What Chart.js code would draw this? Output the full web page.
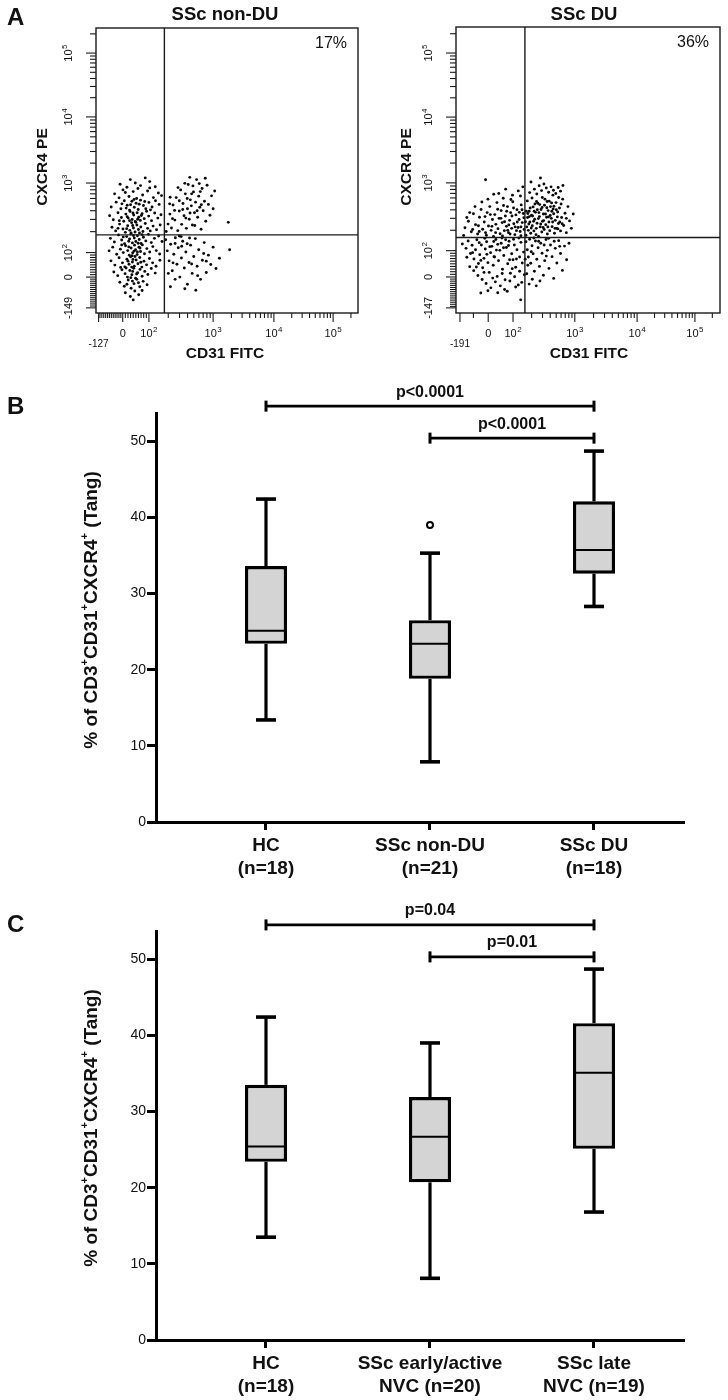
<!DOCTYPE html>
<html><head><meta charset="utf-8">
<script src="https://cdn.jsdelivr.net/npm/chart.js@4.4.1/dist/chart.umd.min.js"></script>
<style>
html,body{margin:0;padding:0;background:#fff;}
body{width:728px;height:1400px;position:relative;overflow:hidden;}
canvas{position:absolute;}
</style></head><body>
<canvas id="flowNonDu" style="left:0;top:0" width="364" height="362"></canvas>
<canvas id="flowDu" style="left:364px;top:0" width="364" height="362"></canvas>
<canvas id="boxB" style="left:0;top:362px" width="728" height="518"></canvas>
<canvas id="boxC" style="left:0;top:880px" width="728" height="520"></canvas>
<script>
// ---------------- Panel A: flow cytometry dot plots (display channel units 0-1000) ----------------
const nonDuTitle = 'SSc non-DU';
const duTitle = 'SSc DU';
const nonDuPercent = '17%';
const duPercent = '36%';
const flowXTitle = 'CD31 FITC';
const flowYTitle = 'CXCR4 PE';
const nonDuXTickLabels = ['-127', '0', '10^2', '10^3', '10^4', '10^5'];
const nonDuXTickCh = [10, 102, 202, 447, 679, 905];
const nonDuYTickLabels = ['-149', '0', '10^2', '10^3', '10^4', '10^5'];
const nonDuYTickCh = [18, 126, 212, 456, 688, 912];
const duXTickLabels = ['-191', '0', '10^2', '10^3', '10^4', '10^5'];
const duXTickCh = [15, 122, 216, 450, 686, 905];
const duYTickLabels = ['-147', '0', '10^2', '10^3', '10^4', '10^5'];
const duYTickCh = [18, 126, 218, 455, 685, 909];
const nonDuGate = [261, 274];
const duGate = [261, 264];

const nonDuPoints = [
 [92,452],[131,468],[170,447],[205,461],[118,441],[188,474],[150,456],[226,443],
 [71,418],[103,432],[126,409],[142,426],[160,437],[178,414],[197,428],[219,405],[238,421],[88,404],[155,402],[112,423],[205,439],[250,412],
 [58,372],[77,389],[95,366],[108,394],[119,378],[128,361],[137,392],[146,371],[153,385],[161,363],[170,396],[181,377],[190,366],[202,388],[214,372],[227,394],[241,381],[132,380],[115,368],[165,382],[145,398],[99,383],[186,391],[208,362],
 [52,341],[66,327],[84,352],[97,335],[106,322],[114,347],[123,333],[130,356],[138,328],[144,344],[150,321],[157,352],[163,336],[169,325],[176,348],[184,331],[193,357],[201,340],[212,324],[224,351],[236,333],[248,345],[119,338],[141,351],[159,329],[173,342],[89,324],[128,324],
 [61,301],[75,288],[90,312],[103,295],[112,283],[121,306],[129,290],[136,317],[143,298],[149,284],[156,309],[162,293],[171,302],[179,286],[188,314],[197,297],[207,288],[218,305],[231,292],[245,309],[134,281],[152,318],[117,296],[166,281],[84,297],[140,307],
 [55,262],[70,249],[86,274],[98,256],[109,243],[117,268],[125,252],[133,277],[139,246],[146,263],[152,251],[158,271],[165,258],[172,244],[181,266],[190,253],[200,276],[211,247],[223,262],[239,270],[252,251],[128,260],[143,272],[161,245],[104,267],[176,275],
 [50,218],[64,231],[79,206],[93,224],[104,212],[113,236],[121,219],[127,203],[134,228],[140,211],[147,238],[151,222],[157,205],[164,231],[170,216],[177,239],[185,208],[194,226],[205,214],[217,233],[230,219],[243,207],[125,232],[138,201],[145,217],[168,228],[98,239],[158,214],
 [57,183],[72,168],[88,194],[101,176],[110,162],[118,189],[126,171],[132,197],[139,179],[146,164],[153,186],[160,173],[167,195],[175,161],[183,182],[193,169],[204,191],[216,176],[229,164],[244,185],[136,161],[149,198],[122,182],[171,178],[94,160],[141,188],
 [68,144],[83,131],[99,152],[111,138],[120,126],[129,149],[137,134],[144,157],[151,122],[159,141],[168,153],[176,129],[186,146],[198,135],[211,156],[226,140],[133,124],[155,137],[115,158],[140,146],
 [91,108],[108,94],[123,116],[134,87],[145,103],[156,118],[167,92],[180,111],[195,99],[139,112],[118,101],[162,106],
 [112,71],[131,58],[148,77],[163,64],[142,46],[176,79],
 [268,286],[275,312],[282,347],[288,298],[294,379],[301,326],[306,405],[312,289],[318,358],[323,432],[327,311],[332,384],[336,341],[341,418],[345,297],[349,366],[352,451],[356,329],[360,397],[364,376],[368,309],[372,425],[376,352],[380,389],[384,468],[388,336],[392,410],[396,371],[401,294],[405,437],[409,359],[414,392],[419,322],[424,448],[429,381],[435,343],[441,411],[447,366],[453,428],[339,455],[358,476],[370,446],[318,394],[300,360],[283,406],[292,331],[313,440],[325,268],[394,454],[417,473],[365,418],[348,402],[331,363],[386,359],[402,380],[377,307],[343,333],[359,351],[281,383],[398,426],
 [505,318],[510,222],
 [266,257],[272,218],[279,183],[285,241],[291,148],[297,206],[303,264],[309,171],[314,229],[320,126],[326,193],[331,252],[337,158],[343,214],[349,101],[355,177],[361,238],[367,139],[373,198],[379,261],[386,164],[392,222],[399,118],[406,185],[413,247],[421,142],[429,203],[438,170],[447,231],[458,156],[471,192],[284,92],[302,118],[339,85],[381,80],[318,270],[357,263],[294,176],[411,209],[276,139],[348,243],[365,172],[327,234],[302,244],[388,131],[421,182]
];

const duPoints = [
 [265,272],[268,301],[271,334],[274,289],[277,356],[280,318],[283,279],[286,342],[289,305],[292,371],[295,287],[298,328],[301,352],[304,296],[307,314],[310,384],[313,268],[316,337],[319,301],[322,362],[325,283],[328,321],[331,346],[334,292],[337,398],[340,309],[343,335],[346,276],[349,358],[352,318],[355,288],[358,372],[361,331],[364,302],[367,412],[370,347],[373,279],[376,324],[379,386],[382,296],[385,353],[388,313],[392,367],[396,287],[400,334],[404,398],[408,306],[413,349],[418,281],[424,372],[430,322],[437,296],[444,346],
 [270,392],[279,421],[288,402],[297,433],[306,416],[315,445],[324,428],[333,451],[342,437],[351,422],[360,441],[369,429],[378,418],[387,439],[396,426],[405,446],
 [272,348],[281,367],[290,339],[299,381],[308,361],[317,379],[326,369],[335,377],[344,368],[353,391],[362,385],[371,373],[380,361],[389,404],[398,381],
 [276,311],[285,297],[294,321],[303,274],[312,330],[321,311],[330,299],[339,346],[348,301],[357,341],[366,318],[375,296],[384,336],[393,318],
 [278,337],[296,356],[314,351],[332,323],[350,336],[368,364],[386,294],[263,319],[266,356],[305,390],[327,404],[345,390],[363,356],[402,312],[418,331],[284,458],[320,472],
 [112,466],
 [34,298],[47,321],[58,284],[66,347],[74,309],[82,276],[89,335],[95,362],[101,293],[107,318],[112,281],[118,351],[123,304],[128,372],[133,289],[138,327],[142,268],[147,344],[151,310],[155,386],[159,295],[163,331],[167,277],[171,358],[175,316],[179,401],[183,288],[187,339],[191,303],[195,372],[199,281],[203,324],[207,351],[211,296],[215,389],[219,312],[223,274],[227,343],[231,361],[235,299],[239,327],[243,285],[247,378],[251,316],[255,348],[258,292],
 [162,418],[188,433],[214,412],[236,427],[253,441],[121,398],[143,415],[98,388],[72,372],[52,351],[41,334],[205,276],[229,288],[246,301],[176,269],[150,281],[192,356],[218,367],[240,352],[170,331],[110,337],[85,305],[63,292],[136,303],[200,308],[232,318],[257,333],[184,319],[224,301],[246,270],[158,363],[208,397],[244,409],[196,289],[115,272],[29,271],[88,285],[130,344],[250,361],[212,339],[180,376],
 [24,241],[38,226],[46,252],[55,208],[61,237],[68,189],[74,221],[79,256],[85,173],[90,204],[96,238],[101,158],[106,191],[111,224],[116,249],[121,176],[126,142],[131,211],[136,233],[141,167],[146,196],[151,257],[156,128],[161,183],[166,219],[171,244],[176,153],[181,201],[186,116],[191,229],[196,172],[201,251],[206,139],[211,207],[216,186],[221,238],[226,160],[231,221],[236,98],[241,196],[246,247],[251,175],[256,213],[259,134],
 [52,162],[67,148],[83,131],[99,117],[114,103],[132,88],[149,109],[168,95],[184,82],[204,112],[222,127],[241,146],[63,211],[88,246],[109,261],[128,232],[153,220],[174,262],[199,236],[218,258],[238,262],[94,184],[117,205],[143,250],[188,256],[229,189],[158,240],[106,142],[139,122],[175,138],[213,155],[249,107],[41,195],[77,161],[194,76],[121,78],[158,71],[226,91],[144,197],[203,186],[180,228],
 [265,249],[270,221],[274,196],[279,258],[283,174],[288,235],[292,207],[297,146],[301,252],[306,188],[311,228],[316,163],[321,244],[326,209],[331,132],[336,183],[341,257],[346,219],[352,156],[358,238],[364,197],[370,121],[376,226],[382,175],[389,253],[396,208],[403,149],[411,234],[419,186],[428,244],
 [268,137],[277,101],[289,118],[304,95],[318,112],[272,167],[295,262],[313,251],[334,238],[351,261],[372,251],[393,233],[285,214],[342,199],[262,188],
 [245,46],[94,70]
];

// ---------------- Panels B and C: box plots ----------------
const panelLetters = ['A', 'B', 'C'];
const boxYTitleParts = [['% of CD3', 0], ['+', 1], ['CD31', 0], ['+', 1], ['CXCR4', 0], ['+', 1], [' (Tang)', 0]];
const boxYTicks = [0, 10, 20, 30, 40, 50];

const groupsB = [['HC', '(n=18)'], ['SSc non-DU', '(n=21)'], ['SSc DU', '(n=18)']];
const minB = [13.4, 7.9, 28.3];
const q1B = [23.4, 18.8, 32.6];
const medianB = [25.1, 23.4, 35.7];
const q3B = [33.6, 26.5, 42.1];
const maxB = [42.4, 35.3, 48.7];
const outliersB = [[2, 39.0]];
const pLabelsB = ['p<0.0001', 'p<0.0001'];
const pPairsB = [[1, 3], [2, 3]];
const pLevelsB = [54.6, 50.4];

const groupsC = [['HC', '(n=18)'], ['SSc early/active', 'NVC (n=20)'], ['SSc late', 'NVC (n=19)']];
const minC = [13.5, 8.1, 16.8];
const q1C = [23.4, 20.7, 25.1];
const medianC = [25.4, 26.7, 35.1];
const q3C = [33.5, 31.9, 41.6];
const maxC = [42.4, 39.0, 48.7];
const outliersC = [];
const pLabelsC = ['p=0.04', 'p=0.01'];
const pPairsC = [[1, 3], [2, 3]];
const pLevelsC = [54.5, 50.3];

// ---------------- drawing helpers ----------------
const FONT = "'Liberation Sans', Arial, Helvetica, sans-serif";
const INK = '#111';

function line(ctx, x1, y1, x2, y2) { ctx.beginPath(); ctx.moveTo(x1, y1); ctx.lineTo(x2, y2); ctx.stroke(); }

function drawExpLabel(ctx, label, cx, cy, size, weight) {
  const w = weight ? weight + ' ' : '';
  const parts = label.split('^');
  const base = parts[0], exp = parts[1];
  const es = Math.round(size * 0.72);
  ctx.font = w + size + 'px ' + FONT;
  const wb = ctx.measureText(base).width;
  let we = 0;
  if (exp) { ctx.font = w + es + 'px ' + FONT; we = ctx.measureText(exp).width + 0.5; }
  const start = cx - (wb + we) / 2;
  ctx.textAlign = 'left'; ctx.textBaseline = 'middle';
  ctx.font = w + size + 'px ' + FONT;
  ctx.fillText(base, start, cy);
  if (exp) { ctx.font = w + es + 'px ' + FONT; ctx.fillText(exp, start + wb + 0.5, cy - size * 0.42); }
}

function drawParts(ctx, parts, cx, cy, size) {
  const ss = Math.round(size * 0.6);
  let total = 0;
  parts.forEach(p => { ctx.font = 'bold ' + (p[1] ? ss : size) + 'px ' + FONT; total += ctx.measureText(p[0]).width; });
  let x = cx - total / 2;
  ctx.textAlign = 'left'; ctx.textBaseline = 'middle';
  parts.forEach(p => {
    ctx.font = 'bold ' + (p[1] ? ss : size) + 'px ' + FONT;
    ctx.fillText(p[0], x, p[1] ? cy - size * 0.36 : cy);
    x += ctx.measureText(p[0]).width;
  });
}

function buildFlowTicks(ch, negLabel, linStep) {
  const minor = [];
  const neg = Math.abs(parseFloat(negLabel));
  const cn = ch[0], c0 = ch[1], c2 = ch[2];
  for (let v = linStep; v < neg - 1; v += linStep) minor.push(c0 - v / neg * (c0 - cn));
  for (let v = linStep; v < 100; v += linStep) minor.push(c0 + v / 100 * (c2 - c0));
  for (let k = 2; k < ch.length; k++) {
    const d = k + 1 < ch.length ? ch[k + 1] - ch[k] : ch[k] - ch[k - 1];
    for (let m = 2; m <= 9; m++) {
      const c = ch[k] + Math.log10(m) * d;
      if (c <= 995) minor.push(c);
    }
  }
  return { major: ch.slice(), minor };
}

function flowDecor(o) {
  return {
    id: 'flowDecor' + o.key,
    afterDatasetsDraw(chart) {
      const ctx = chart.ctx, a = chart.chartArea, xs = chart.scales.x, ys = chart.scales.y;
      ctx.save();
      ctx.strokeStyle = '#1a1a1a'; ctx.fillStyle = INK;
      ctx.lineWidth = 1.4;
      ctx.strokeRect(a.left, a.top, a.right - a.left, a.bottom - a.top);
      const gx = xs.getPixelForValue(o.gate[0]), gy = ys.getPixelForValue(o.gate[1]);
      line(ctx, gx, a.top, gx, a.bottom);
      line(ctx, a.left, gy, a.right, gy);
      ctx.lineWidth = 1.1;
      const xt = buildFlowTicks(o.xTickCh, o.xTickLabels[0], o.xStep);
      const yt = buildFlowTicks(o.yTickCh, o.yTickLabels[0], o.yStep);
      xt.major.forEach(c => { const x = xs.getPixelForValue(c); line(ctx, x, a.bottom, x, a.bottom + 9); });
      xt.minor.forEach(c => { const x = xs.getPixelForValue(c); line(ctx, x, a.bottom, x, a.bottom + 5); });
      yt.major.forEach(c => { const y = ys.getPixelForValue(c); line(ctx, a.left - 10, y, a.left, y); });
      yt.minor.forEach(c => { const y = ys.getPixelForValue(c); line(ctx, a.left - 6, y, a.left, y); });
      o.xTickLabels.forEach((l, i) => {
        const x = xs.getPixelForValue(o.xTickCh[i]);
        drawExpLabel(ctx, l, x, a.bottom + (i === 0 ? 31 : 21), i === 0 ? 10 : 11);
      });
      o.yTickLabels.forEach((l, i) => {
        const y = ys.getPixelForValue(o.yTickCh[i]);
        ctx.save(); ctx.translate(a.left - 27, y); ctx.rotate(-Math.PI / 2);
        drawExpLabel(ctx, l, 0, 0, 11); ctx.restore();
      });
      ctx.textAlign = 'center'; ctx.textBaseline = 'middle';
      ctx.font = 'bold 18.5px ' + FONT;
      ctx.fillText(o.title, o.titleX, 15);
      ctx.font = '16px ' + FONT;
      ctx.fillText(o.percent, a.right - 27, a.top + 16);
      ctx.font = 'bold 15.5px ' + FONT;
      ctx.fillText(flowXTitle, o.xTitleX, 354);
      ctx.save(); ctx.translate(43, 167); ctx.rotate(-Math.PI / 2);
      ctx.fillText(flowYTitle, 0, 0); ctx.restore();
      if (o.letter) {
        ctx.font = 'bold 24px ' + FONT; ctx.textAlign = 'left'; ctx.textBaseline = 'alphabetic';
        ctx.fillText(o.letter, 7, 25);
      }
      ctx.restore();
    }
  };
}

function makeFlow(id, pts, o) {
  new Chart(document.getElementById(id), {
    type: 'scatter',
    data: { datasets: [{ data: pts.map(p => ({ x: p[0], y: p[1] })), pointRadius: 1.45, pointHoverRadius: 0,
      backgroundColor: '#0a0a0a', borderColor: '#0a0a0a', borderWidth: 0 }] },
    options: {
      responsive: false, animation: false, devicePixelRatio: 1, events: [],
      layout: { padding: o.pad },
      plugins: { legend: { display: false }, tooltip: { enabled: false } },
      scales: {
        x: { type: 'linear', min: 0, max: 1000, display: false },
        y: { type: 'linear', min: 0, max: 1000, display: false }
      }
    },
    plugins: [flowDecor(o)]
  });
}

function boxDecor(o) {
  return {
    id: 'boxDecor' + o.key,
    beforeDatasetsDraw(chart) {
      const ctx = chart.ctx, xs = chart.scales.x, ys = chart.scales.y;
      ctx.save(); ctx.strokeStyle = '#000'; ctx.lineCap = 'butt';
      o.q1.forEach((q, i) => {
        const x = xs.getPixelForValue(i + 1);
        const yMax = ys.getPixelForValue(o.max[i]), yMin = ys.getPixelForValue(o.min[i]);
        ctx.lineWidth = 3.2;
        line(ctx, x, yMax, x, ys.getPixelForValue(o.q3[i]));
        line(ctx, x, ys.getPixelForValue(q), x, yMin);
        ctx.lineWidth = 3.6;
        line(ctx, x - 10, yMax, x + 10, yMax);
        line(ctx, x - 10, yMin, x + 10, yMin);
      });
      ctx.restore();
    },
    afterDatasetsDraw(chart) {
      const ctx = chart.ctx, a = chart.chartArea, xs = chart.scales.x, ys = chart.scales.y;
      ctx.save();
      ctx.strokeStyle = '#000'; ctx.fillStyle = INK;
      ctx.lineWidth = 2;
      o.median.forEach((m, i) => {
        const x = xs.getPixelForValue(i + 1), y = ys.getPixelForValue(m);
        line(ctx, x - 19, y, x + 19, y);
      });
      // significance brackets
      o.pPairs.forEach((pr, i) => {
        const x1 = xs.getPixelForValue(pr[0]), x2 = xs.getPixelForValue(pr[1]);
        const y = ys.getPixelForValue(o.pLevels[i]);
        ctx.lineWidth = 2.7;
        line(ctx, x1, y, x2, y);
        ctx.lineWidth = 3;
        line(ctx, x1, y - 5.5, x1, y + 5.5);
        line(ctx, x2, y - 5.5, x2, y + 5.5);
        ctx.font = 'bold 16px ' + FONT; ctx.textAlign = 'center'; ctx.textBaseline = 'middle';
        ctx.fillText(o.pLabels[i], (x1 + x2) / 2, y - 14);
      });
      // category labels
      ctx.font = 'bold 19px ' + FONT; ctx.textAlign = 'center'; ctx.textBaseline = 'middle';
      o.groups.forEach((g, i) => {
        const x = xs.getPixelForValue(i + 1);
        ctx.fillText(g[0], x, a.bottom + 24);
        ctx.fillText(g[1], x, a.bottom + 47);
      });
      // y title
      ctx.save(); ctx.translate(92, 248); ctx.rotate(-Math.PI / 2);
      drawParts(ctx, boxYTitleParts, 0, 0, 19); ctx.restore();
      // panel letter
      ctx.font = 'bold 24px ' + FONT; ctx.textAlign = 'left'; ctx.textBaseline = 'alphabetic';
      ctx.fillText(o.letter, 7, 52);
      ctx.restore();
    }
  };
}

function makeBox(id, o) {
  const canvas = document.getElementById(id);
  const H = canvas.height;
  new Chart(canvas, {
    type: 'bar',
    data: { datasets: [
      { type: 'bar', data: o.q1.map((q, i) => ({ x: i + 1, y: [q, o.q3[i]] })),
        backgroundColor: '#d4d4d4', borderColor: '#000', borderWidth: 3.4, borderSkipped: false,
        barThickness: 42, inflateAmount: 0, order: 2 },
      { type: 'scatter', data: o.outliers.map(p => ({ x: p[0], y: p[1] })),
        pointRadius: 3, pointBorderWidth: 2, pointBackgroundColor: '#fff', pointBorderColor: '#000', order: 1 }
    ] },
    options: {
      responsive: false, animation: false, devicePixelRatio: 1, events: [],
      layout: { padding: { left: 0, right: 44, top: 51, bottom: 0 } },
      plugins: { legend: { display: false }, tooltip: { enabled: false } },
      scales: {
        x: { type: 'linear', min: 0.3293, max: 3.5488, offset: false,
          afterBuildTicks: s => { s.ticks = o.groups.map((g, i) => ({ value: i + 1 })); },
          afterFit: s => { s.height = H - 460; },
          ticks: { display: false },
          grid: { display: true, offset: false, drawOnChartArea: false, drawTicks: true, tickLength: 8, tickWidth: 3, color: '#000' },
          border: { display: true, width: 3, color: '#000' } },
        y: { type: 'linear', min: 0, max: 53.7,
          afterBuildTicks: s => { s.ticks = boxYTicks.map(v => ({ value: v })); },
          afterFit: s => { s.width = 156; },
          ticks: { font: { family: FONT, size: 14 }, color: INK, padding: 1 },
          grid: { display: true, drawOnChartArea: false, drawTicks: true, tickLength: 9, tickWidth: 3, color: '#000' },
          border: { display: true, width: 3, color: '#000' } }
      }
    },
    plugins: [boxDecor(o)]
  });
}

makeFlow('flowNonDu', nonDuPoints, {
  key: 'nonDu', pad: { left: 96, top: 28, right: 6, bottom: 49 },
  gate: nonDuGate, xTickCh: nonDuXTickCh, xTickLabels: nonDuXTickLabels, yTickCh: nonDuYTickCh, yTickLabels: nonDuYTickLabels,
  xStep: 10, yStep: 10, title: nonDuTitle, titleX: 225, xTitleX: 225, percent: nonDuPercent, letter: panelLetters[0]
});
makeFlow('flowDu', duPoints, {
  key: 'du', pad: { left: 92, top: 27, right: 8, bottom: 49 },
  gate: duGate, xTickCh: duXTickCh, xTickLabels: duXTickLabels, yTickCh: duYTickCh, yTickLabels: duYTickLabels,
  xStep: 100, yStep: 10, title: duTitle, titleX: 220, xTitleX: 225, percent: duPercent, letter: null
});
makeBox('boxB', { key: 'B', letter: panelLetters[1], groups: groupsB, min: minB, q1: q1B, median: medianB, q3: q3B, max: maxB,
  outliers: outliersB, pLabels: pLabelsB, pPairs: pPairsB, pLevels: pLevelsB });
makeBox('boxC', { key: 'C', letter: panelLetters[2], groups: groupsC, min: minC, q1: q1C, median: medianC, q3: q3C, max: maxC,
  outliers: outliersC, pLabels: pLabelsC, pPairs: pPairsC, pLevels: pLevelsC });
</script>
</body></html>
